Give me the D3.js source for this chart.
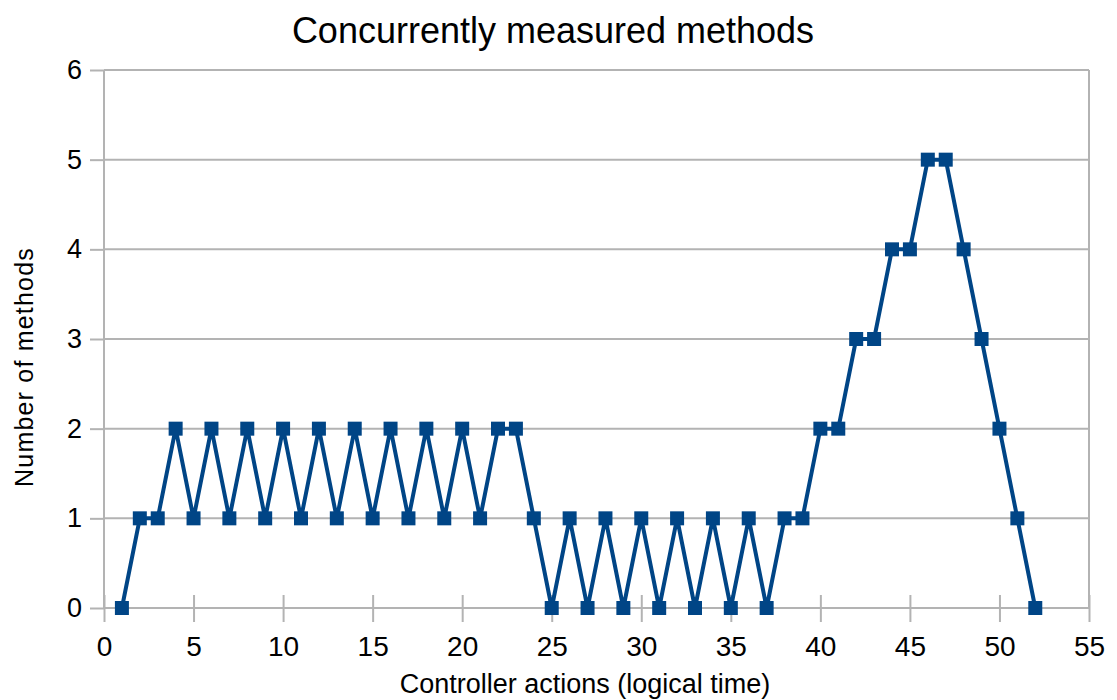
<!DOCTYPE html>
<html>
<head>
<meta charset="utf-8">
<script src="https://cdn.jsdelivr.net/npm/d3@7"></script>
<style>
  body { margin: 0; background: #fff; }
  text { font-family: "Liberation Sans", Arial, sans-serif; fill: #000; }
</style>
</head>
<body>
<div id="chart"></div>
<script>
// controller action index (logical time)
const actions = d3.range(1, 53);
// number of concurrently measured methods at each action
const methods = [
  0, 1, 1, 2, 1, 2, 1, 2, 1, 2,
  1, 2, 1, 2, 1, 2, 1, 2, 1, 2,
  1, 2, 2, 1, 0, 1, 0, 1, 0, 1,
  0, 1, 0, 1, 0, 1, 0, 1, 1, 2,
  2, 3, 3, 4, 4, 5, 5, 4, 3, 2,
  1, 0
];
const xTicks = d3.range(0, 56, 5);
const yTicks = d3.range(0, 7, 1);

const title = "Concurrently measured methods";
const xTitle = "Controller actions (logical time)";
const yTitle = "Number of methods";

const width = 1117, height = 700;
const margin = { top: 70, right: 28, bottom: 92, left: 104 };
const blue = "#004586";
const grid = "#b3b3b3";

const svg = d3.select("#chart").append("svg")
  .attr("width", width)
  .attr("height", height);

const x = d3.scaleLinear().domain([0, 55]).range([margin.left, width - margin.right]);
const y = d3.scaleLinear().domain([0, 6]).range([height - margin.bottom, margin.top]);

// y axis (outer ticks only)
svg.append("g")
  .attr("transform", `translate(${margin.left},0)`)
  .call(d3.axisLeft(y).tickValues(yTicks).tickSize(14).tickPadding(8).tickFormat(d3.format("d")))
  .call(g => g.select(".domain").remove())
  .call(g => g.selectAll(".tick line").attr("stroke", grid).attr("stroke-width", 2))
  .call(g => g.selectAll(".tick text").style("font-size", "27px"));

// horizontal gridlines
svg.append("g")
  .selectAll("line")
  .data(yTicks)
  .join("line")
  .attr("x1", x(0))
  .attr("x2", x(55))
  .attr("y1", d => y(d))
  .attr("y2", d => y(d))
  .attr("stroke", grid)
  .attr("stroke-width", 2);

// right wall border and left axis line
svg.append("line")
  .attr("x1", x(55)).attr("x2", x(55))
  .attr("y1", y(6)).attr("y2", y(0))
  .attr("stroke", grid).attr("stroke-width", 2);
svg.append("line")
  .attr("x1", x(0)).attr("x2", x(0))
  .attr("y1", y(6)).attr("y2", y(0))
  .attr("stroke", grid).attr("stroke-width", 2);

// x axis: ticks crossing the axis line
svg.append("g")
  .attr("transform", `translate(0,${y(0)})`)
  .call(d3.axisBottom(x).tickValues(xTicks).tickSize(14).tickPadding(14).tickFormat(d3.format("d")))
  .call(g => g.select(".domain").remove())
  .call(g => g.selectAll(".tick line").attr("y1", -13).attr("stroke", grid).attr("stroke-width", 2))
  .call(g => g.selectAll(".tick text").style("font-size", "28px"));

// series line
const pts = actions.map((a, i) => [a, methods[i]]);
svg.append("path")
  .datum(pts)
  .attr("fill", "none")
  .attr("stroke", blue)
  .attr("stroke-width", 4)
  .attr("stroke-linejoin", "round")
  .attr("d", d3.line().x(d => x(d[0])).y(d => y(d[1])));

const m = 14;
svg.append("g")
  .selectAll("rect")
  .data(pts)
  .join("rect")
  .attr("x", d => x(d[0]) - m / 2)
  .attr("y", d => y(d[1]) - m / 2)
  .attr("width", m)
  .attr("height", m)
  .attr("fill", blue);

// titles
svg.append("text")
  .attr("x", 553)
  .attr("y", 43)
  .attr("text-anchor", "middle")
  .style("font-size", "36px")
  .text(title);

svg.append("text")
  .attr("x", 585)
  .attr("y", 693)
  .attr("text-anchor", "middle")
  .style("font-size", "27px")
  .text(xTitle);

svg.append("text")
  .attr("transform", "translate(33,367) rotate(-90)")
  .attr("text-anchor", "middle")
  .style("font-size", "25px")
  .style("letter-spacing", "1.2px")
  .text(yTitle);
</script>
</body>
</html>
